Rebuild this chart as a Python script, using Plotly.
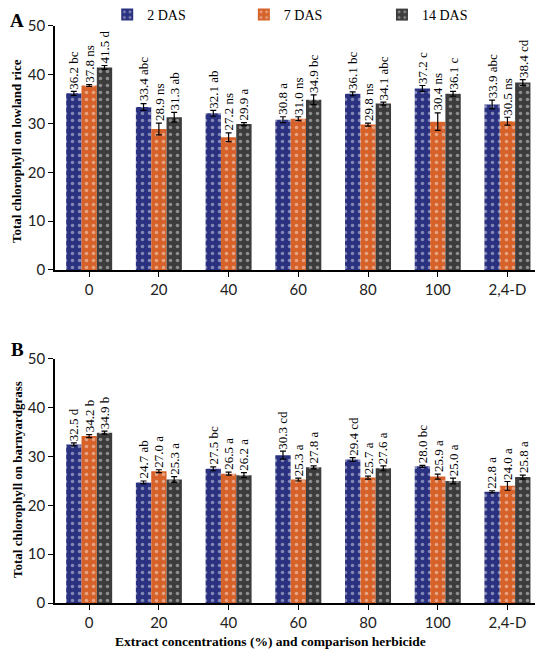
import plotly.graph_objects as go

categories = ["0", "20", "40", "60", "80", "100", "2,4-D"]
series_names = ["2 DAS", "7 DAS", "14 DAS"]
colors = ["#2a3180", "#d6622a", "#3c3c3c"]

# Panel A: lowland rice
rice_2 = [36.2, 33.4, 32.1, 30.8, 36.1, 37.2, 33.9]
rice_7 = [37.8, 28.9, 27.2, 31.0, 29.8, 30.4, 30.5]
rice_14 = [41.5, 31.3, 29.9, 34.9, 34.1, 36.1, 38.4]
rice_2_err = [0.4, 0.7, 0.6, 0.6, 0.4, 0.6, 0.9]
rice_7_err = [0.2, 1.2, 0.9, 0.4, 0.3, 1.8, 0.8]
rice_14_err = [0.4, 1.0, 0.3, 1.0, 0.3, 0.5, 0.6]
rice_2_let = ["bc", "abc", "ab", "a", "bc", "c", "abc"]
rice_7_let = ["ns", "ns", "ns", "ns", "ns", "ns", "ns"]
rice_14_let = ["d", "ab", "a", "bc", "abc", "c", "cd"]

# Panel B: barnyardgrass
grass_2 = [32.5, 24.7, 27.5, 30.3, 29.4, 28.0, 22.8]
grass_7 = [34.2, 27.0, 26.5, 25.3, 25.7, 25.9, 24.0]
grass_14 = [34.9, 25.3, 26.2, 27.8, 27.6, 25.0, 25.8]
grass_2_err = [0.3, 0.3, 0.4, 0.8, 0.4, 0.2, 0.2]
grass_7_err = [0.3, 0.3, 0.3, 0.3, 0.3, 0.5, 0.9]
grass_14_err = [0.3, 0.6, 0.5, 0.3, 0.5, 0.6, 0.4]
grass_2_let = ["d", "ab", "bc", "cd", "cd", "bc", "a"]
grass_7_let = ["b", "a", "a", "a", "a", "a", "a"]
grass_14_let = ["b", "a", "a", "a", "a", "a", "a"]

panels = [
    ([rice_2, rice_7, rice_14], [rice_2_err, rice_7_err, rice_14_err],
     [rice_2_let, rice_7_let, rice_14_let], "x", "y"),
    ([grass_2, grass_7, grass_14], [grass_2_err, grass_7_err, grass_14_err],
     [grass_2_let, grass_7_let, grass_14_let], "x2", "y2"),
]

SERIF = "Liberation Serif"
SANS = "Lato"
W, H = 535, 642
ML = 47

fig = go.Figure()
annotations = []
idx = list(range(len(categories)))
bar_w = 0.22
offsets = [-bar_w, 0, bar_w]
legend_ids = ["legend", "legend2", "legend3"]

for p, (vals, errs, lets, xa, ya) in enumerate(panels):
    for s in range(3):
        xs = [i + offsets[s] for i in idx]
        fig.add_trace(go.Bar(
            x=xs, y=vals[s], width=bar_w, name=series_names[s],
            xaxis=xa, yaxis=ya, showlegend=(p == 0), legend=legend_ids[s],
            marker=dict(color=colors[s], line=dict(width=0),
                        pattern=dict(shape=".", fgcolor="rgba(255,255,255,0.85)",
                                     bgcolor=colors[s], size=7, solidity=0.2)),
            error_y=dict(type="data", array=errs[s], color="black",
                         thickness=1.2, width=3),
        ))
        for i in idx:
            annotations.append(dict(
                x=xs[i], y=vals[s][i] + errs[s][i], xref=xa, yref=ya,
                text=f"{vals[s][i]:.1f} {lets[s][i]}", textangle=-90,
                showarrow=False, xanchor="center", yanchor="bottom", yshift=1,
                borderpad=0,
                font=dict(family=SERIF, size=13, color="black"),
            ))

axis_common = dict(showline=True, linecolor="black", linewidth=1.5,
                   ticks="outside", ticklen=5, tickcolor="black", automargin=False,
                   tickfont=dict(family=SANS, size=15, color="#222"))


def leg(x):
    return dict(orientation="h", x=x, y=1 - 7 / H, xanchor="left", yanchor="middle",
                font=dict(family=SERIF, size=14, color="black"),
                itemwidth=30, bgcolor="rgba(0,0,0,0)")


fig.update_layout(
    width=W, height=H,
    margin=dict(l=ML, r=0, t=0, b=0, autoexpand=False),
    paper_bgcolor="white", plot_bgcolor="white",
    barmode="overlay",
    xaxis=dict(domain=[0, 1], anchor="y", range=[-0.49, 6.51],
               tickvals=idx, ticktext=categories, showgrid=False, **axis_common),
    yaxis=dict(domain=[0.5919, 0.9720], anchor="x", range=[0, 50], dtick=10,
               showgrid=True, gridcolor="rgba(255,255,255,0.45)", gridwidth=1,
               layer="above traces", zeroline=False, **axis_common),
    xaxis2=dict(domain=[0, 1], anchor="y2", range=[-0.49, 6.51],
                tickvals=idx, ticktext=categories, showgrid=False, **axis_common),
    yaxis2=dict(domain=[0.0732, 0.4533], anchor="x2", range=[0, 50], dtick=10,
                showgrid=True, gridcolor="rgba(255,255,255,0.45)", gridwidth=1,
                layer="above traces", zeroline=False, **axis_common),
    legend=leg(0.107),
    legend2=leg(0.387),
    legend3=leg(0.670),
)

annotations += [
    dict(text="<b>A</b>", x=0, y=1 - 12 / H, xref="paper", yref="paper",
         xanchor="center", yanchor="middle", borderpad=0,
         xshift=-38, showarrow=False, font=dict(family=SERIF, size=19, color="black")),
    dict(text="<b>B</b>", x=0, y=1 - 341 / H, xref="paper", yref="paper",
         xanchor="center", yanchor="middle", borderpad=0,
         xshift=-38, showarrow=False, font=dict(family=SERIF, size=19, color="black")),
    dict(text="<b>Total chlorophyll on lowland rice</b>", textangle=-90,
         x=0, y=1 - 143 / H, xref="paper", yref="paper", xshift=-38,
         xanchor="center", yanchor="middle", borderpad=0,
         showarrow=False, font=dict(family=SERIF, size=13, color="black")),
    dict(text="<b>Total chlorophyll on barnyardgrass</b>", textangle=-90,
         x=0, y=1 - 472 / H, xref="paper", yref="paper", xshift=-38,
         xanchor="center", yanchor="middle", borderpad=0,
         showarrow=False, font=dict(family=SERIF, size=13, color="black")),
    dict(text="<b>Extract concentrations (%) and comparison herbicide</b>",
         x=(262 - ML) / (W - ML), y=1 - 633 / H, xref="paper", yref="paper",
         xanchor="center", yanchor="middle",
         showarrow=False, font=dict(family=SERIF, size=13.5, color="black")),
]
fig.update_layout(annotations=annotations)

fig.write_html("out.html")
